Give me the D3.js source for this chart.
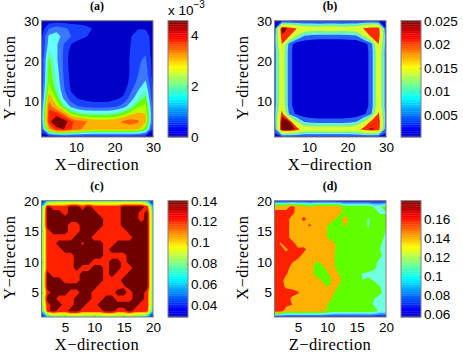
<!DOCTYPE html>
<html>
<head>
<meta charset="utf-8">
<script src="https://cdn.jsdelivr.net/npm/d3@7"></script>
<style>
body { margin: 0; background: #fff; }
.tick text { font-family: "Liberation Sans", sans-serif; font-size: 13.5px; fill: #000; }
.axis-label { font-family: "Liberation Serif", serif; font-size: 16.5px; letter-spacing: 0.4px; fill: #000; }
.panel-title { font-family: "Liberation Serif", serif; font-size: 12px; font-weight: bold; fill: #000; }
.bar-exp { font-family: "Liberation Sans", sans-serif; fill: #000; }
</style>
</head>
<body>
<div id="chart"></div>
<script>
// (a) values in units of 1e-3, rows from top (y=30) to bottom (y=1)
const gridA = [
  [.1,.2,.25,.25,.2,.2,.15,.1,.05,.05,.05,.05,.05,.1,.1,.05],
  [.2,1.0,1.25,1.1,.9,.8,.7,.45,.1,.05,.05,.05,.3,.45,.45,.1],
  [.4,1.6,1.75,1.3,1.0,.8,.55,.2,.05,.05,.05,.05,.45,.9,.8,.2],
  [.4,1.7,1.6,1.0,.5,.2,.1,.05,.05,.05,.05,.05,.5,.9,.9,.2],
  [.4,2.0,1.6,.9,.3,.1,.05,.05,.05,.05,.05,.05,.55,.9,.95,.2],
  [.5,2.3,1.6,.9,.2,.05,.05,.05,.05,.05,.05,.05,.6,.95,1.05,.3],
  [.5,2.4,1.7,.9,.25,.05,.05,.05,.05,.05,.05,.05,.6,.95,1.2,.3],
  [.5,2.5,1.8,.95,.3,.05,.05,.05,.05,.05,.05,.05,.6,1.0,1.3,.3],
  [.55,2.6,1.9,1.0,.35,.1,.05,.05,.05,.05,.05,.1,.7,1.15,1.6,.4],
  [.6,2.9,2.1,1.1,.45,.25,.1,.05,.05,.05,.1,.3,.9,1.5,1.95,.5],
  [.7,3.3,2.5,1.4,.7,.45,.35,.3,.3,.3,.4,.6,1.2,1.9,2.3,.6],
  [.9,3.9,3.1,2.1,1.3,.95,.8,.7,.7,.75,.9,1.2,1.8,2.5,2.7,.8],
  [1.1,4.1,4.2,3.6,2.6,2.2,2.0,2.0,2.0,2.0,2.1,2.4,2.9,3.1,3.0,.9],
  [1.1,4.2,4.9,4.7,4.1,3.8,3.65,3.3,3.3,3.3,3.4,3.7,3.9,3.7,3.1,.8],
  [.8,3.3,4.2,4.4,4.0,3.7,3.4,3.2,3.2,3.2,3.2,3.2,3.2,3.1,2.4,.5],
  [.1,.2,.3,.3,.3,.3,.3,.3,.3,.3,.3,.3,.3,.3,.2,.1]
];
const levelsA = [0, .5, 1, 1.5, 1.9, 2.2, 2.6, 3, 3.6, 4, 4.4];
const colorsA = ["#0000c8", "#1a40ff", "#3c78ff", "#66ffff", "#60ffb0", "#66ff00", "#b8ff00", "#ffb000", "#ff6000", "#ff2000", "#780000"];
const ticksA = [10, 20, 30];
const barTicksA = [0, 2, 4];

// (b) values in units of 1e-3
const gridB = [
  [3,3,3,3,3,3,3,3,3,3,3,3,3,3,3,3],
  [4,25,23,20.5,17,16.5,16,17,17,16,16.5,17,21,23.2,23,4],
  [6,23,20.5,13,7.5,6.5,6,6,6,6,6.5,7,13,21.5,23,6],
  [6,20.5,6,1.5,1,1,1,1,1,1,1,1,2,6,20.5,6],
  [6,17,5.5,1.5,1,1,1,1,1,1,1,1,1.5,5.5,17,6],
  [6,17,5.5,1.5,1,1,1,1,1,1,1,1,1.5,5.5,17,6],
  [6,17,5.5,1.5,1,1,1,1,1,1,1,1,1.5,5.5,17,6],
  [6,17,5.5,1.5,1,1,1,1,1,1,1,1,1.5,5.5,17,6],
  [6,17,5.5,1.5,1,1,1,1,1,1,1,1,1.5,5.5,17,6],
  [6,17,5.5,1.5,1,1,1,1,1,1,1,1,1.5,5.5,17,6],
  [6,17,5.5,1.5,1,1,1,1,1,1,1,1,1.5,5.5,17,6],
  [6,18,5.5,1.5,1,1,1,1,1,1,1,1,1.5,5.5,17,6],
  [6,22.5,7,3,1.5,1,1,1,1,1,1,1.5,3,7,21.5,6],
  [6,25,23.5,13,7.5,6.5,6,6,6,6,6.5,7.5,13,21.5,23.6,6],
  [5,26,25.5,23,17,16.5,16.5,17,17,17,16.5,18,22.5,24,23,5],
  [3,3,3,3,3,3,3,3,3,3,3,3,3,3,3,3]
];
const levelsB = [0, 4, 8, 10.5, 13, 20.5, 23.5];
const colorsB = ["#0000d4", "#2860ff", "#70f0d0", "#70f0a0", "#d8ff30", "#ff2800", "#780000"];
const ticksB = [10, 20, 30];
const barTicksB = [.005, .01, .015, .02, .025];

// (c) values in units of 1e-3
const gridC = [
  [35,60,70,75,75,75,75,75,75,75,75,75,75,75,75,75,75,70,60,35],
  [60,136,124,124,124,136,136,124,136,124,124,124,124,124,136,136,136,136,124,60],
  [70,136,136,136,124,136,136,136,136,136,124,124,124,124,136,136,136,124,136,70],
  [72,136,136,136,136,136,136,136,136,136,136,124,124,124,136,136,136,124,136,72],
  [72,136,136,136,136,124,124,136,136,136,136,124,124,124,136,136,136,136,136,72],
  [72,124,136,136,136,124,124,136,136,136,124,124,124,124,124,136,136,136,136,72],
  [72,124,124,124,124,124,136,136,136,124,124,124,124,124,124,124,136,136,136,72],
  [72,124,124,136,136,136,136,128,136,136,136,124,124,136,136,136,136,136,136,72],
  [72,124,124,124,136,136,136,136,136,136,136,124,136,136,136,136,136,136,136,72],
  [72,124,124,124,124,124,136,136,136,136,136,124,124,124,124,136,136,136,136,72],
  [72,124,124,124,124,124,136,136,136,124,124,124,136,136,124,136,136,136,136,72],
  [72,124,124,124,124,124,136,124,124,136,136,124,136,136,124,124,136,136,136,72],
  [72,136,124,124,124,124,124,136,136,136,136,124,136,124,124,136,136,136,136,72],
  [72,136,136,136,124,124,124,136,136,136,136,124,124,124,136,136,136,136,136,72],
  [72,136,136,136,136,136,136,136,136,136,124,124,124,124,128,136,136,136,136,72],
  [72,124,136,136,136,124,124,136,136,124,124,124,124,136,136,124,136,136,124,72],
  [72,136,136,124,124,124,136,136,136,124,124,136,136,124,124,124,136,136,124,72],
  [72,124,136,136,124,124,136,136,124,124,136,136,136,136,136,136,136,124,124,72],
  [60,124,136,124,124,136,136,124,124,124,124,136,136,124,124,136,124,124,124,60],
  [35,60,70,75,75,75,75,75,75,75,75,75,75,75,75,75,75,70,60,35]
];
const levelsC = [30, 45, 55, 65, 75, 85, 95, 105, 115, 130];
const colorsC = ["#0000e0", "#0060ff", "#00c0ff", "#40ffc0", "#80ff60", "#c0ff20", "#ffff00", "#ffb000", "#ff2000", "#700000"];
const ticksC = [5, 10, 15, 20];
const barTicksC = [.04, .06, .08, .1, .12, .14];

// (d) values in units of 1e-3
const gridD = [
  [66,66,66,66,66,66,66,66,66,66,66,66,66,66,66,66,66,66,66,66],
  [140,140,140,158,140,140,128,140,140,140,140,138,120,120,120,120,120,108,108,120],
  [160,160,160,156,140,140,140,140,140,140,140,135,125,125,120,120,118,120,108,108],
  [160,160,160,140,140,156,140,140,140,140,135,120,140,122,120,120,108,120,120,120],
  [160,160,160,140,140,140,153,140,140,130,120,120,133,120,120,120,108,120,120,120],
  [160,160,160,140,140,140,140,140,140,130,120,120,120,120,120,120,112,120,120,108],
  [160,160,160,140,140,140,140,140,140,129,120,120,120,120,120,120,120,120,118,105],
  [160,148,160,160,140,140,140,140,140,140,136,120,120,120,120,120,120,120,112,104],
  [160,160,146,160,155,156,140,140,140,140,135,122,120,120,120,120,120,120,110,104],
  [160,160,160,160,160,140,140,140,140,140,133,120,120,120,120,120,120,120,112,105],
  [160,160,160,152,140,140,140,128,135,140,133,120,120,120,120,120,120,115,105,105],
  [160,160,160,140,140,140,140,125,122,135,135,120,120,120,120,120,120,112,105,105],
  [160,160,152,140,140,140,140,125,120,128,135,130,120,120,120,108,105,105,105,105],
  [160,160,140,140,140,140,140,140,130,120,134,135,120,120,120,110,115,108,105,105],
  [160,160,145,140,140,140,140,140,140,128,138,128,120,120,120,120,120,118,110,105],
  [160,160,160,160,152,140,140,140,140,140,132,120,120,120,120,120,120,120,112,105],
  [160,160,160,145,140,140,140,140,140,135,128,120,120,120,120,120,120,110,105,105],
  [160,160,155,150,140,140,140,140,140,130,120,120,120,130,120,120,115,108,105,105],
  [160,160,140,140,140,140,140,140,140,128,120,120,120,120,120,120,120,118,105,105],
  [66,66,66,66,66,66,66,66,66,66,66,66,66,66,66,66,66,66,66,66]
];
const levelsD = [57, 70, 80, 90, 100, 110, 130, 150, 172];
const colorsD = ["#0000d0", "#1a40ff", "#3c90ff", "#50e0ff", "#70ffe0", "#60ff00", "#ffb000", "#ff2000", "#780000"];
const ticksD = [5, 10, 15, 20];
const barTicksD = [.06, .08, .1, .12, .14, .16];

const width = 463;
const height = 354;
const boxGrey = "#808080";

const svg = d3.select("#chart").append("svg")
    .attr("width", width)
    .attr("height", height)
    .style("display", "block");

const defs = svg.append("defs");

function jet(t) {
    const r = Math.min(4 * t - 1.5, -4 * t + 4.5);
    const g = Math.min(4 * t - 0.5, -4 * t + 3.5);
    const b = Math.min(4 * t + 0.5, -4 * t + 2.5);
    const c = v => Math.round(255 * Math.max(0, Math.min(1, v)));
    return `rgb(${c(r)},${c(g)},${c(b)})`;
}

function styleAxis(g) {
    g.select(".domain").remove();
    g.selectAll(".tick line").attr("stroke", "#606060").attr("stroke-width", 0.6);
}

function drawPanel(p) {
    const x = d3.scaleLinear().domain(p.domain).range([p.left, p.left + 111.5]);
    const y = d3.scaleLinear().domain(p.domain).range([p.top + 116.3, p.top]);
    const nRows = p.grid.length;
    const nCols = p.grid[0].length;

    // contour coordinates sit half a cell in from the grid index
    const cx = d3.scaleLinear().domain([0.5, nCols - 0.5]).range(x.range());
    const cy = d3.scaleLinear().domain([0.5, nRows - 0.5]).range(y.range().slice().reverse());
    const path = d3.geoPath(d3.geoTransform({
        point(a, b) { this.stream.point(cx(a), cy(b)); }
    }));

    const clipId = "clip-" + p.name;
    defs.append("clipPath").attr("id", clipId).append("rect")
        .attr("x", p.left).attr("y", p.top)
        .attr("width", 111.5).attr("height", 116.3);

    const contours = d3.contours().size([nCols, nRows]).thresholds(p.levels)(p.grid.flat());
    const plot = svg.append("g").attr("clip-path", `url(#${clipId})`);
    plot.append("rect")
        .attr("x", p.left).attr("y", p.top)
        .attr("width", 111.5).attr("height", 116.3)
        .attr("fill", p.colors[0]);
    plot.selectAll("path")
        .data(contours)
        .enter().append("path")
        .attr("d", path)
        .attr("fill", (d, i) => p.colors[i]);

    svg.append("g")
        .attr("transform", `translate(0,${p.top + 116.3})`)
        .call(d3.axisBottom(x).tickValues(p.ticks).tickSizeInner(-1.5).tickSizeOuter(0).tickPadding(5.5))
        .call(styleAxis);
    svg.append("g")
        .attr("transform", `translate(${p.left},0)`)
        .call(d3.axisLeft(y).tickValues(p.ticks).tickSizeInner(-1.5).tickSizeOuter(0).tickPadding(2.5))
        .call(styleAxis);

    svg.append("rect")
        .attr("x", p.left).attr("y", p.top)
        .attr("width", 111.5).attr("height", 116.3)
        .attr("fill", "none")
        .attr("stroke", boxGrey)
        .attr("stroke-width", 1);

    svg.append("text").attr("class", "panel-title")
        .attr("x", p.left + 55.5).attr("y", p.top - 11)
        .attr("text-anchor", "middle")
        .text(p.title);
    svg.append("text").attr("class", "axis-label")
        .attr("x", p.left + 55.5).attr("y", p.top + 149.2)
        .attr("text-anchor", "middle")
        .text(p.xLabel);
    svg.append("text").attr("class", "axis-label")
        .attr("transform", `translate(${p.left - 26.5},${p.top + 57}) rotate(-90)`)
        .attr("text-anchor", "middle")
        .text(p.yLabel);

    // colorbar
    const barLeft = p.left + 126.5;
    const barWidth = 20;
    const barScale = d3.scaleLinear().domain(p.barDomain).range([p.top + 116.3, p.top]);
    const steps = d3.range(64);
    svg.append("g").selectAll("rect")
        .data(steps)
        .enter().append("rect")
        .attr("x", barLeft)
        .attr("y", d => p.top + 116.3 * (63 - d) / 64)
        .attr("width", barWidth)
        .attr("height", 116.3 / 64 + 0.3)
        .attr("fill", d => jet(0.06 + 0.94 * (d + 0.5) / 64));
    svg.append("g")
        .attr("transform", `translate(${barLeft + barWidth},0)`)
        .call(d3.axisRight(barScale).tickValues(p.barTicks).tickFormat(d3.format("~g")).tickSizeInner(-1.5).tickSizeOuter(0).tickPadding(3))
        .call(styleAxis);
    svg.append("rect")
        .attr("x", barLeft).attr("y", p.top)
        .attr("width", barWidth).attr("height", 116.3)
        .attr("fill", "none")
        .attr("stroke", boxGrey)
        .attr("stroke-width", 1);

    if (p.exponent) {
        const exp = svg.append("text").attr("class", "bar-exp")
            .attr("x", barLeft).attr("y", p.top - 5.5)
            .style("font-size", "13.5px")
            .text("x 10");
        exp.append("tspan").attr("dy", -7).style("font-size", "10px").text("−3");
    }
}

drawPanel({
    name: "a", title: "(a)", left: 41.5, top: 20.7, domain: [1, 30],
    grid: gridA, levels: levelsA, colors: colorsA, ticks: ticksA,
    xLabel: "X−direction", yLabel: "Y−direction",
    barDomain: [0, 4.57], barTicks: barTicksA, exponent: true
});
drawPanel({
    name: "b", title: "(b)", left: 274.5, top: 20.7, domain: [1, 30],
    grid: gridB, levels: levelsB, colors: colorsB, ticks: ticksB,
    xLabel: "X−direction", yLabel: "Y−direction",
    barDomain: [.0004, .025], barTicks: barTicksB
});
drawPanel({
    name: "c", title: "(c)", left: 41.5, top: 200.7, domain: [1, 20],
    grid: gridC, levels: levelsC, colors: colorsC, ticks: ticksC,
    xLabel: "X−direction", yLabel: "Y−direction",
    barDomain: [.029, .14], barTicks: barTicksC
});
drawPanel({
    name: "d", title: "(d)", left: 274.5, top: 200.7, domain: [1, 20],
    grid: gridD, levels: levelsD, colors: colorsD, ticks: ticksD,
    xLabel: "Z−direction", yLabel: "X−direction",
    barDomain: [.057, .18], barTicks: barTicksD
});
</script>
</body>
</html>
